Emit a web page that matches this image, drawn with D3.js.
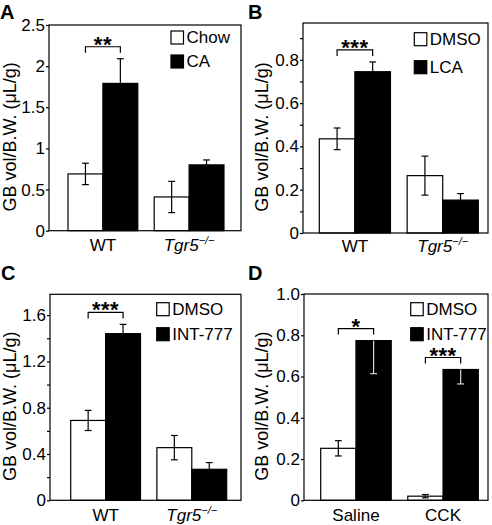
<!DOCTYPE html>
<html><head><meta charset="utf-8">
<script src="https://cdn.jsdelivr.net/npm/d3@7"></script>
<style>
body{margin:0;background:#fff}
svg{display:block}
text{font-family:"Liberation Sans",Arial,Helvetica,sans-serif;fill:#000}
</style>
</head><body><svg id="chart" width="492" height="525"></svg>
<script>
// ---------- data ----------
const panelLetters = ["A", "B", "C", "D"];
const categoriesA = ["WT", "Tgr5−/−"];
const categoriesB = ["WT", "Tgr5−/−"];
const categoriesC = ["WT", "Tgr5−/−"];
const categoriesD = ["Saline", "CCK"];
const seriesA = ["Chow", "CA"];
const seriesB = ["DMSO", "LCA"];
const seriesC = ["DMSO", "INT-777"];
const seriesD = ["DMSO", "INT-777"];
// means[group][series], sem[group][series]
const meansA = [[0.69, 1.79], [0.41, 0.80]];
const semA   = [[0.13, 0.30], [0.19, 0.06]];
const meansB = [[0.435, 0.745], [0.265, 0.152]];
const semB   = [[0.05, 0.045], [0.09, 0.03]];
const meansC = [[0.69, 1.44], [0.455, 0.268]];
const semC   = [[0.087, 0.08], [0.105, 0.058]];
const meansD = [[0.252, 0.774], [0.02, 0.634]];
const semD   = [[0.037, 0.16], [0.008, 0.07]];
const ticksA = [0, 0.5, 1, 1.5, 2, 2.5];
const tickLabelsA = ["0", "0.5", "1", "1.5", "2", "2.5"];
const minorTicksA = [];
const ticksB = [0, 0.2, 0.4, 0.6, 0.8];
const tickLabelsB = ["0", "0.2", "0.4", "0.6", "0.8"];
const minorTicksB = [0.1, 0.3, 0.5, 0.7, 0.9];
const ticksC = [0, 0.4, 0.8, 1.2, 1.6];
const tickLabelsC = ["0", "0.4", "0.8", "1.2", "1.6"];
const minorTicksC = [0.2, 0.6, 1.0, 1.4];
const ticksD = [0, 0.2, 0.4, 0.6, 0.8, 1.0];
const tickLabelsD = ["0", "0.2", "0.4", "0.6", "0.8", "1.0"];
const minorTicksD = [];
const yMaxA = 2.5, yMaxB = 0.97, yMaxC = 1.78, yMaxD = 1.0;
const sigA = [[0, "**"]];
const sigB = [[0, "***"]];
const sigC = [[0, "***"]];
const sigD = [[0, "*"], [1, "***"]];
const yTitle = "GB vol/B.W. (μL/g)";

// ---------- layout (positions/styles only) ----------
const layout = [
  {frame: [49, 25, 241, 230.7], bars: [68, 224], legend: [171, 31, 24], titleX: 10, letter: [0, 18.5], xLabY: 251, blackErr: "up"},
  {frame: [303, 23, 488, 233], bars: [319.3, 478.3], legend: [414.3, 32.7, 28], titleX: 262, letter: [248, 18.5], xLabY: 252, blackErr: "up"},
  {frame: [50, 294.3, 241, 500.3], bars: [70.7, 226.7], legend: [156.7, 302.7, 25], titleX: 10, letter: [1, 280], xLabY: 521, blackErr: "up"},
  {frame: [304, 294, 488, 500.3], bars: [320.7, 478.3], legend: [410.7, 302.7, 25], titleX: 262, letter: [248, 280], xLabY: 521, blackErr: "down"}
];

const panels = [
  {cats: categoriesA, series: seriesA, means: meansA, sem: semA, ticks: ticksA, labels: tickLabelsA, minor: minorTicksA, yMax: yMaxA, sig: sigA},
  {cats: categoriesB, series: seriesB, means: meansB, sem: semB, ticks: ticksB, labels: tickLabelsB, minor: minorTicksB, yMax: yMaxB, sig: sigB},
  {cats: categoriesC, series: seriesC, means: meansC, sem: semC, ticks: ticksC, labels: tickLabelsC, minor: minorTicksC, yMax: yMaxC, sig: sigC},
  {cats: categoriesD, series: seriesD, means: meansD, sem: semD, ticks: ticksD, labels: tickLabelsD, minor: minorTicksD, yMax: yMaxD, sig: sigD}
];

const svg = d3.select("#chart");
const fills = ["#fff", "#000"];
const capW = 3.4;
const sw = 1.2;

panels.forEach((p, pi) => {
  const L = layout[pi];
  const [fx0, fy0, fx1, fy1] = L.frame;
  const g = svg.append("g");
  const y = d3.scaleLinear().domain([0, p.yMax]).range([fy1, fy0]);
  const x = d3.scaleBand().domain(p.cats).range(L.bars).paddingInner(0.19).paddingOuter(0);
  const xs = d3.scaleBand().domain(d3.range(p.series.length)).range([0, x.bandwidth()]).padding(0);

  // axis ticks
  const ax = g.append("g").attr("transform", `translate(${fx0},0)`)
    .call(d3.axisLeft(y).tickValues(p.ticks).tickFormat((d, i) => p.labels[i]).tickSize(3).tickPadding(1));
  ax.select(".domain").remove();
  ax.selectAll("text").attr("font-size", 17).style("font-family", '"Liberation Sans",Arial,sans-serif');
  ax.selectAll("line").attr("stroke", "#000").attr("stroke-width", sw);
  if (p.minor.length) {
    const mx = g.append("g").attr("transform", `translate(${fx0},0)`)
      .call(d3.axisLeft(y).tickValues(p.minor).tickFormat("").tickSize(3));
    mx.select(".domain").remove();
    mx.selectAll("line").attr("stroke", "#000").attr("stroke-width", sw);
  }

  // bars
  p.cats.forEach((c, gi) => {
    p.series.forEach((s, si) => {
      const m = p.means[gi][si], e = p.sem[gi][si];
      const bx = x(c) + xs(si), bw = xs.bandwidth();
      g.append("rect").attr("x", bx).attr("y", y(m)).attr("width", bw).attr("height", y(0) - y(m))
        .attr("fill", fills[si]).attr("stroke", "#000").attr("stroke-width", sw);
      const cx = bx + bw / 2;
      let lo, hi, col = "#000", capsAt;
      if (si === 0) { lo = m - e; hi = m + e; capsAt = [lo, hi]; }
      else if (L.blackErr === "up") { lo = m; hi = m + e; capsAt = [hi]; }
      else { lo = m - e; hi = m; capsAt = [lo]; col = "#d8d8d8"; }
      g.append("line").attr("x1", cx).attr("x2", cx).attr("y1", y(lo)).attr("y2", y(hi))
        .attr("stroke", col).attr("stroke-width", sw);
      capsAt.forEach(v => g.append("line").attr("x1", cx - capW).attr("x2", cx + capW)
        .attr("y1", y(v)).attr("y2", y(v)).attr("stroke", col).attr("stroke-width", sw));
    });
  });

  // frame
  g.append("rect").attr("x", fx0).attr("y", fy0).attr("width", fx1 - fx0).attr("height", fy1 - fy0)
    .attr("fill", "none").attr("stroke", "#000").attr("stroke-width", sw);

  // significance brackets
  p.sig.forEach(([gi, lab]) => {
    const c = p.cats[gi];
    const xa = x(c) + xs(0) + xs.bandwidth() / 2;
    const xb = x(c) + xs(1) + xs.bandwidth() / 2;
    let topV = 0;
    p.series.forEach((s, si) => {
      const m = p.means[gi][si], e = p.sem[gi][si];
      const up = (si === 0 || L.blackErr === "up") ? m + e : m;
      topV = Math.max(topV, up);
    });
    const yt = y(topV) - 12;
    g.append("path").attr("d", `M${xa},${yt + 6}V${yt}H${xb}V${yt + 6}`)
      .attr("fill", "none").attr("stroke", "#000").attr("stroke-width", sw);
    g.append("text").attr("x", (xa + xb) / 2).attr("y", yt + 5).attr("text-anchor", "middle")
      .attr("font-size", 22).attr("font-weight", "bold").attr("letter-spacing", 0.5).text(lab);
  });

  // legend
  const [lx, ly, ldy] = L.legend;
  p.series.forEach((s, si) => {
    g.append("rect").attr("x", lx).attr("y", ly + si * ldy).attr("width", 12.5).attr("height", 13)
      .attr("fill", fills[si]).attr("stroke", "#000").attr("stroke-width", sw);
    g.append("text").attr("x", lx + 15.5).attr("y", ly + si * ldy + 6.5).attr("dy", "0.35em")
      .attr("font-size", 17).text(s);
  });

  // x labels
  p.cats.forEach(c => {
    const t = g.append("text").attr("x", x(c) + x.bandwidth() / 2).attr("y", L.xLabY)
      .attr("text-anchor", "middle").attr("font-size", 17);
    const mt = c.match(/^(.*?)(−\/−)$/);
    if (mt) {
      t.append("tspan").attr("font-style", "italic").text(mt[1]);
      t.append("tspan").attr("font-style", "italic").attr("font-size", 11).attr("dy", -7).text(mt[2]);
    } else t.text(c);
  });

  // y title
  g.append("text").attr("transform", `translate(${L.titleX},${(fy0 + fy1) / 2 + 9}) rotate(-90)`)
    .attr("text-anchor", "middle").attr("dy", "0.35em").attr("font-size", 18).text(yTitle);

  // panel letter
  g.append("text").attr("x", L.letter[0]).attr("y", L.letter[1]).attr("font-size", 20)
    .attr("font-weight", "bold").text(panelLetters[pi]);
});
</script>
</body></html>
